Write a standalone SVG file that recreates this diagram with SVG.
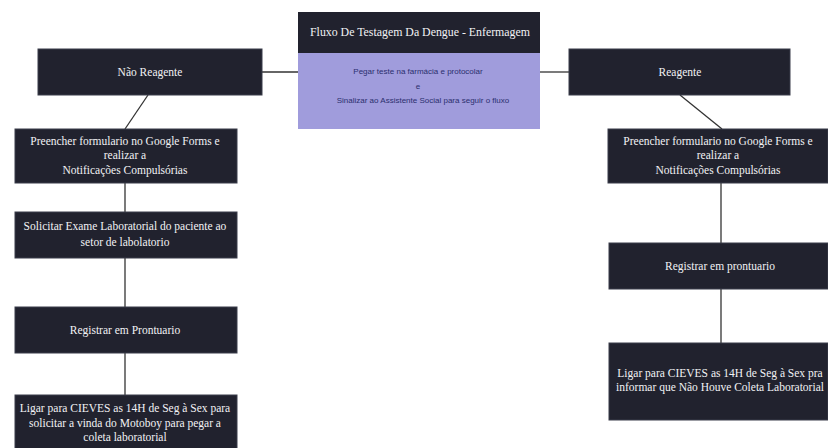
<svg xmlns="http://www.w3.org/2000/svg" width="828" height="448" viewBox="0 0 828 448">
<style>
.box{fill:#21222e;stroke:#3a3c4a;stroke-width:1}
.t{font-family:"Liberation Serif","DejaVu Serif",serif;font-size:11.5px;fill:#f2f2f5;text-anchor:middle;dominant-baseline:central}
.p{font-family:"Liberation Sans",sans-serif;font-size:8px;fill:#2b2f6e;text-anchor:middle;dominant-baseline:central}
.c{stroke:#333;stroke-width:1.3;fill:none}
</style>
<rect width="828" height="448" fill="#ffffff"/>
<g id="connectors">
<line class="c" x1="262" y1="72" x2="298" y2="72"/>
<line class="c" x1="540" y1="72" x2="569" y2="72"/>
<line class="c" x1="148" y1="95" x2="125" y2="129"/>
<line class="c" x1="125" y1="183" x2="125" y2="212"/>
<line class="c" x1="125" y1="258" x2="125" y2="307"/>
<line class="c" x1="125" y1="353" x2="125" y2="395"/>
<line class="c" x1="680" y1="95" x2="722" y2="129"/>
<line class="c" x1="721" y1="183" x2="721" y2="243"/>
<line class="c" x1="721" y1="289" x2="721" y2="343"/>
</g>
<g id="top">
<rect x="298" y="12" width="242" height="41" fill="#21222e"/>
<rect x="298" y="53" width="242" height="76" fill="#a09cdc"/>
<text class="t" x="420" y="32" textLength="220" lengthAdjust="spacingAndGlyphs">Fluxo De Testagem Da Dengue - Enfermagem</text>
<text class="p" x="418" y="71">Pegar teste na farmácia e protocolar</text>
<text class="p" x="418" y="86">e</text>
<text class="p" x="423" y="100">Sinalizar ao Assistente Social para seguir o fluxo</text>
</g>
<g id="nao-reagente">
<rect class="box" x="38" y="49" width="224" height="46"/>
<text class="t" x="150" y="72">Não Reagente</text>
</g>
<g id="preencher-left">
<rect class="box" x="15" y="129" width="222" height="54"/>
<text class="t" x="125" y="141">Preencher formulario no Google Forms e</text>
<text class="t" x="125" y="155">realizar a</text>
<text class="t" x="125" y="170">Notificações Compulsórias</text>
</g>
<g id="solicitar">
<rect class="box" x="15" y="212" width="222" height="46"/>
<text class="t" x="125" y="226">Solicitar Exame Laboratorial do paciente ao</text>
<text class="t" x="125" y="242">setor de labolatorio</text>
</g>
<g id="registrar-left">
<rect class="box" x="15" y="307" width="222" height="46"/>
<text class="t" x="125" y="330">Registrar em Prontuario</text>
</g>
<g id="ligar-left">
<rect class="box" x="15" y="395" width="222" height="54"/>
<text class="t" x="125" y="408">Ligar para CIEVES as 14H de Seg à Sex para</text>
<text class="t" x="125" y="423">solicitar a vinda do Motoboy para pegar a</text>
<text class="t" x="125" y="437">coleta laboratorial</text>
</g>
<g id="reagente">
<rect class="box" x="569" y="49" width="221" height="46"/>
<text class="t" x="680" y="72">Reagente</text>
</g>
<g id="preencher-right">
<rect class="box" x="608" y="129" width="220" height="54"/>
<text class="t" x="718" y="141">Preencher formulario no Google Forms e</text>
<text class="t" x="718" y="155">realizar a</text>
<text class="t" x="718" y="170">Notificações Compulsórias</text>
</g>
<g id="registrar-right">
<rect class="box" x="609" y="243" width="219" height="46"/>
<text class="t" x="720" y="266">Registrar em prontuario</text>
</g>
<g id="ligar-right">
<rect class="box" x="609" y="343" width="219" height="77"/>
<text class="t" x="720" y="373">Ligar para CIEVES as 14H de Seg à Sex pra</text>
<text class="t" x="720" y="387">informar que Não Houve Coleta Laboratorial</text>
</g>
</svg>
